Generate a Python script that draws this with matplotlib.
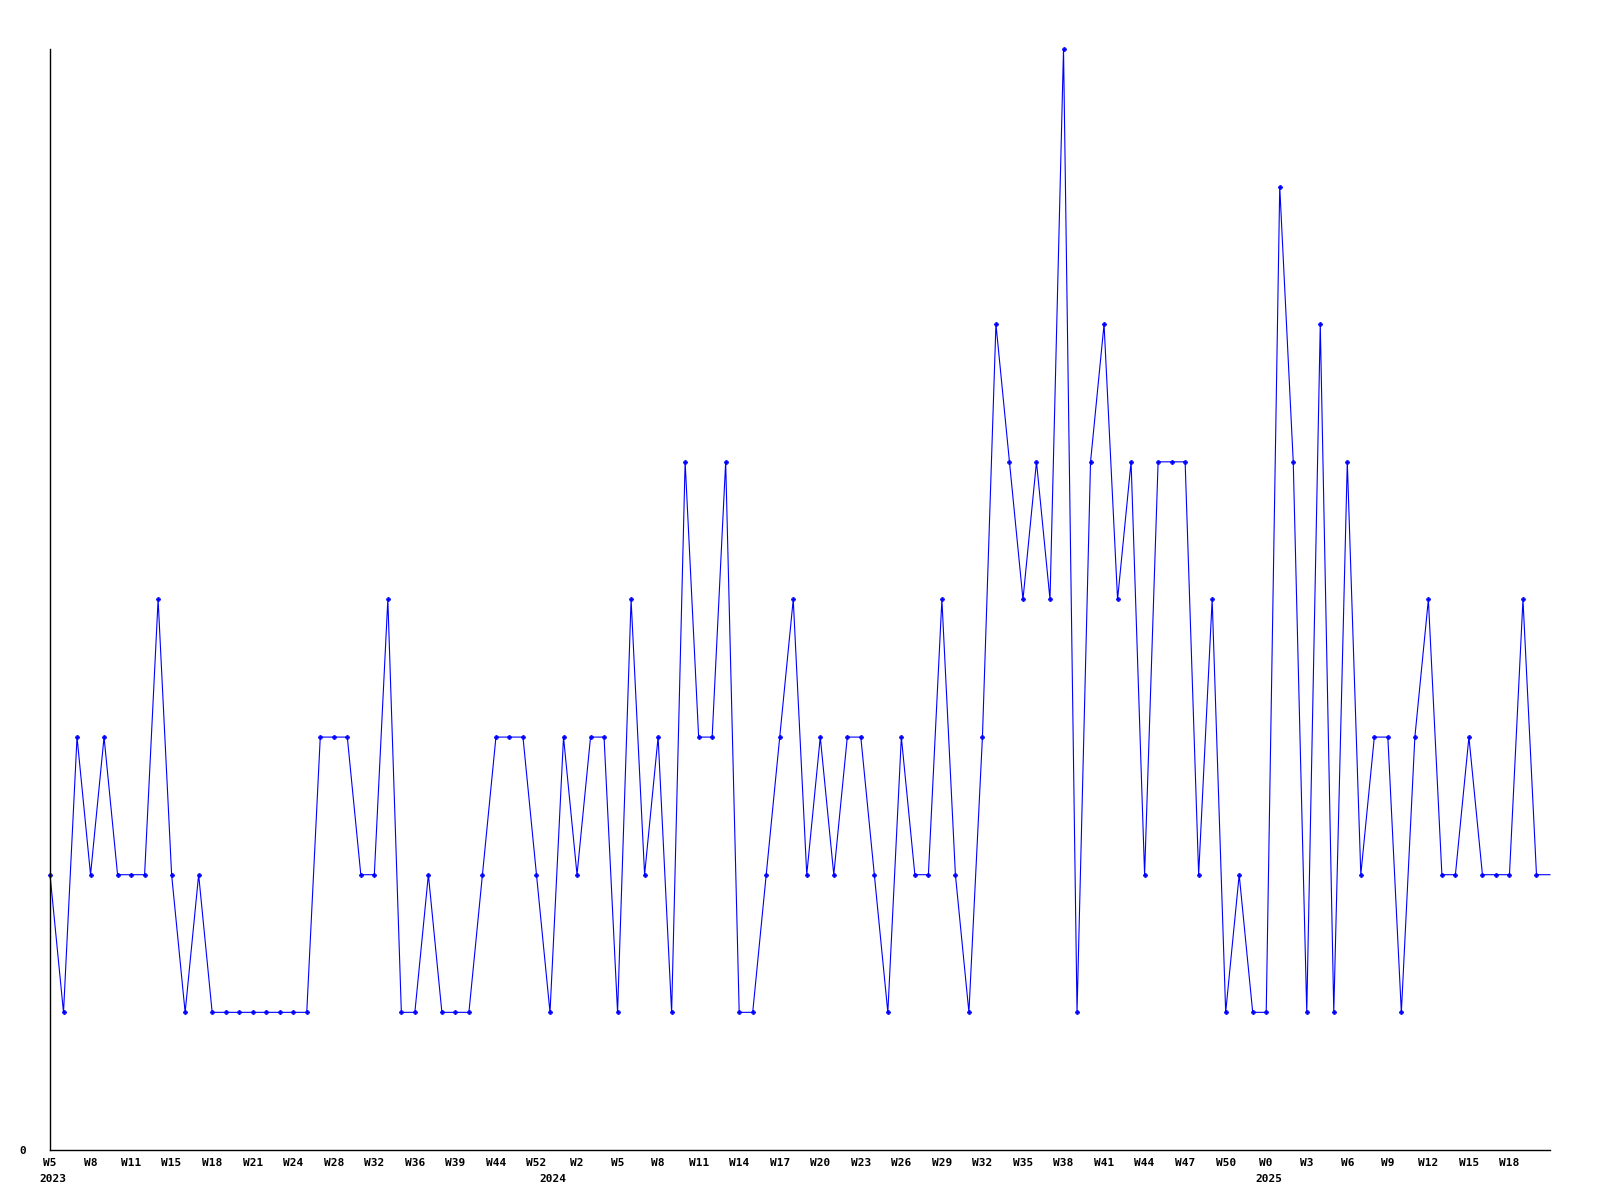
import matplotlib
matplotlib.use('Agg')
import matplotlib.pyplot as plt

# weekly counts, one value per point
values = [2, 1, 3, 2, 3, 2, 2, 2, 4, 2,
          1, 2, 1, 1, 1, 1, 1, 1, 1, 1,
          3, 3, 3, 2, 2, 4, 1, 1, 2, 1,
          1, 1, 2, 3, 3, 3, 2, 1, 3, 2,
          3, 3, 1, 4, 2, 3, 1, 5, 3, 3,
          5, 1, 1, 2, 3, 4, 2, 3, 2, 3,
          3, 2, 1, 3, 2, 2, 4, 2, 1, 3,
          6, 5, 4, 5, 4, 8, 1, 5, 6, 4,
          5, 2, 5, 5, 5, 2, 4, 1, 2, 1,
          1, 7, 5, 1, 6, 1, 5, 2, 3, 3,
          1, 3, 4, 2, 2, 3, 2, 2, 2, 4,
          2, 2]

# a week label under every third point
week_labels = ["W5", "W8", "W11", "W15", "W18", "W21", "W24", "W28", "W32",
               "W36", "W39", "W44", "W52", "W2", "W5", "W8", "W11", "W14",
               "W17", "W20", "W23", "W26", "W29", "W32", "W35", "W38", "W41",
               "W44", "W47", "W50", "W0", "W3", "W6", "W9", "W12", "W15", "W18"]

years = ["2023", "2024", "2025"]
year_index = [0, 37, 90]

x = list(range(len(values)))

fig = plt.figure(figsize=(16, 12), dpi=100)
ax = fig.add_axes([0.03125, 0.0417, 0.9375, 0.9175])

ax.plot(x, values, color='#0000FF', lw=0.8, marker='P', markersize=3,
        markeredgewidth=0.5, markevery=list(range(len(values) - 1)),
        clip_on=False)

ax.set_xlim(0, len(values) - 1)
ax.set_ylim(0, max(values))

for side in ['top', 'right']:
    ax.spines[side].set_visible(False)
for side in ['left', 'bottom']:
    ax.spines[side].set_linewidth(1)
    ax.spines[side].set_color('black')

mono = dict(family='DejaVu Sans Mono', weight='bold', size=8)

ax.set_xticks(x[::3][:len(week_labels)])
ax.set_xticklabels(week_labels, fontdict=mono)
ax.set_yticks([0])
ax.set_yticklabels(["0"], fontdict=mono)
ax.tick_params(axis='x', length=0, pad=6)
ax.tick_params(axis='y', length=0, pad=17)

for yr, i in zip(years, year_index):
    ax.annotate(yr, xy=(i, 0), xycoords=('data', 'axes fraction'),
                xytext=(2, -21), textcoords='offset points',
                ha='center', va='center', **mono)

fig.savefig('out.png', dpi=100)
